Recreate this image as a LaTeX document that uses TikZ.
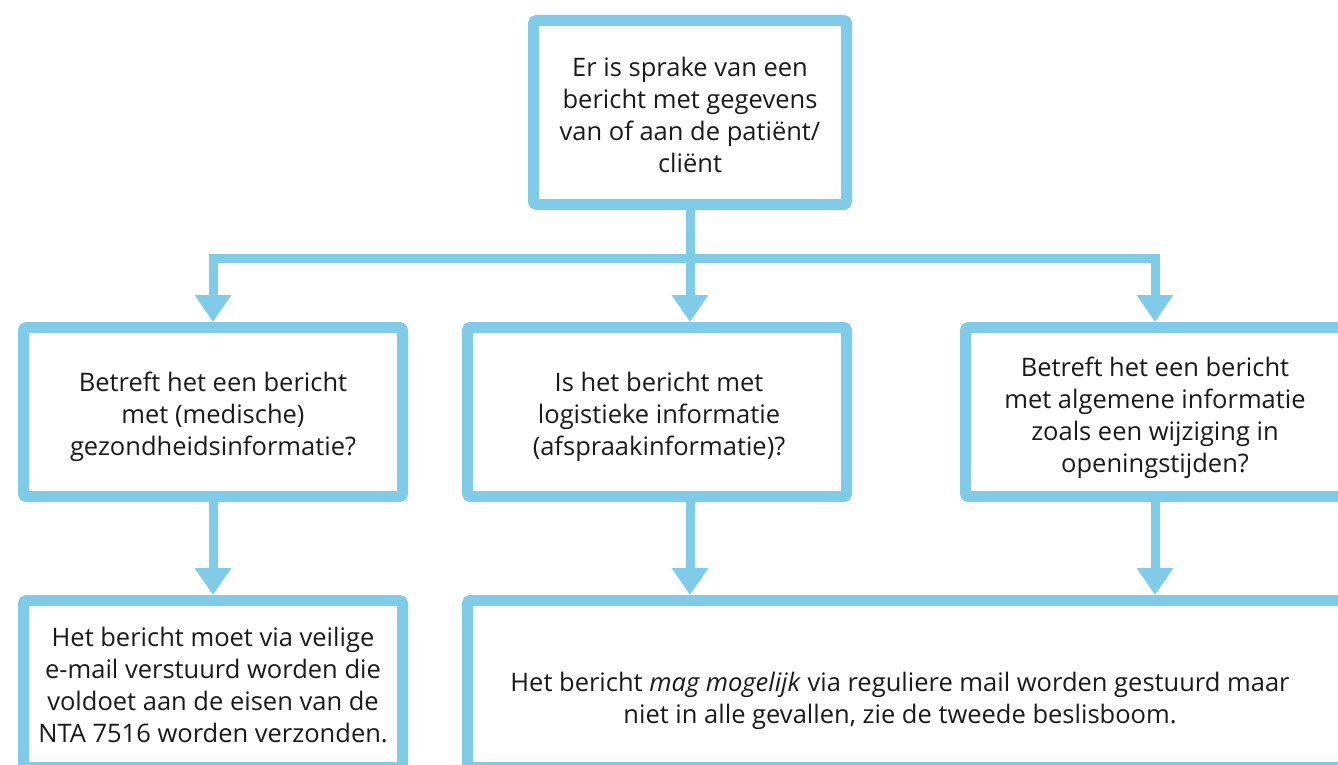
\documentclass[tikz,border=0pt]{standalone}
\usepackage{fontspec}
\setmainfont{Open Sans}
\usetikzlibrary{arrows.meta}
\definecolor{lblue}{HTML}{7FCBE8}
\definecolor{ink}{HTML}{1A1A1A}
\tikzset{
  box/.style={draw=lblue, line width=11pt, fill=white, rounded corners=3pt,
    inner sep=0pt},
  txt/.style={inner sep=0pt, align=center, text=ink,
    font=\fontsize{25.5pt}{32pt}\selectfont},
  conn/.style={draw=lblue, line width=9pt, line join=miter,
    -{Triangle[width=35pt 0, length=27pt 0]}}
}
\begin{document}
\begin{tikzpicture}[x=1pt,y=-1pt]
\useasboundingbox (0,0) rectangle (1338,765);
\clip (0,0) rectangle (1338,765);
\fill[white] (0,0) rectangle (1338,765);
\coordinate (jn) at (0,258);

\node[box, minimum width=313pt, minimum height=184pt] (top) at (690,112.5) {};
\node[box, minimum width=379pt, minimum height=169pt] (L1) at (213,412) {};
\node[box, minimum width=379pt, minimum height=169pt] (M1) at (657,412) {};
\node[box, minimum width=379pt, minimum height=169pt] (R1) at (1155,412) {};
\node[box, minimum width=379pt, minimum height=167pt] (L2) at (213,684) {};
\node[box, minimum width=877pt, minimum height=167pt] (R2) at (906,684) {};

\node[txt] (t1) at (690,114.5)
  {Er is sprake van een\\bericht met gegevens\\van of aan de patiënt/\\cliënt};
\node[txt] (t2) at (213,417)
  {Betreft het een bericht\\met (medische)\\gezondheidsinformatie?};
\node[txt] (t3) at (659,417)
  {Is het bericht met\\logistieke informatie\\(afspraakinformatie)?};
\node[txt] (t4) at (1155,418)
  {Betreft het een bericht\\met algemene informatie\\zoals een wijziging in\\openingstijden?};
\node[txt] (t5) at (213,685)
  {Het bericht moet via veilige\\e-mail verstuurd worden die\\voldoet aan de eisen van de\\NTA 7516 worden verzonden.};
\node[txt] (t6) at (900,701)
  {Het bericht \textit{mag mogelijk} via reguliere mail worden gestuurd maar\\niet in alle gevallen, zie de tweede beslisboom.};

\draw[conn] (top.south) |- (L1.north |- jn) -- (L1.north);
\draw[conn] (top.south) |- (R1.north |- jn) -- (R1.north);
\draw[conn] (top.south) -- (top.south |- M1.north);
\draw[conn] (L1.south) -- (L2.north);
\draw[conn] (top.south |- M1.south) -- (top.south |- R2.north);
\draw[conn] (R1.south) -- (R1.south |- R2.north);
\end{tikzpicture}
\end{document}
